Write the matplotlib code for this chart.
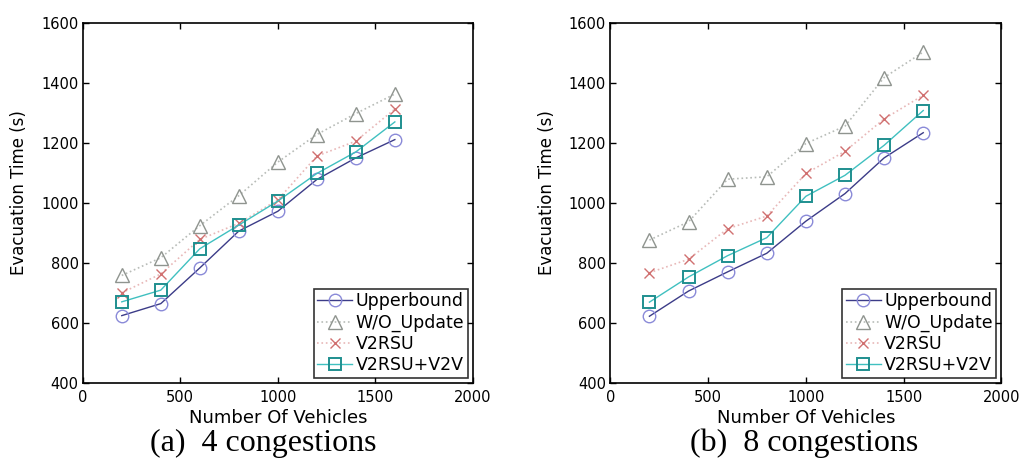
import numpy as np
import matplotlib.pyplot as plt

# 車両台数
vehicles = [200, 400, 600, 800, 1000, 1200, 1400, 1600]
labels = ['Upperbound', 'W/O_Update', 'V2RSU', 'V2RSU+V2V']

# (a) 4 congestions
upper_a = [624, 664, 783, 906, 972, 1078, 1150, 1211]
woupd_a = [758, 817, 924, 1024, 1136, 1228, 1298, 1363]
v2rsu_a = [700, 763, 878, 932, 1010, 1156, 1206, 1313]
v2v_a = [670, 709, 847, 926, 1006, 1098, 1170, 1270]

# (b) 8 congestions
upper_b = [622, 706, 770, 832, 939, 1031, 1150, 1234]
woupd_b = [876, 937, 1079, 1087, 1198, 1256, 1418, 1503]
v2rsu_b = [767, 812, 914, 956, 1098, 1172, 1280, 1359]
v2v_b = [669, 753, 824, 884, 1022, 1092, 1192, 1308]

captions = ['(a)  4 congestions', '(b)  8 congestions']

plt.rcParams['font.family'] = ['DejaVu Sans']

fig = plt.figure(figsize=(10.24, 4.59), dpi=100)
ax1 = fig.add_axes([0.0808, 0.166, 0.381, 0.784])
ax2 = fig.add_axes([0.596, 0.166, 0.382, 0.784])

styles = [
    dict(color='#3c3c88', ls='-', lw=1.0, marker='o', ms=9, mfc='none', mec='#8a8ad8', mew=1.0),
    dict(color='#b8bcb8', ls=':', lw=1.2, marker='^', ms=10, mfc='none', mec='#8f948f', mew=1.0),
    dict(color='#e8b8b8', ls=':', lw=1.2, marker='x', ms=7, mfc='none', mec='#d07070', mew=1.0),
    dict(color='#40c0c0', ls='-', lw=1.0, marker='s', ms=8, mfc='none', mec='#1f8f8f', mew=1.4),
]

for ax, series, cap, cx in [(ax1, [upper_a, woupd_a, v2rsu_a, v2v_a], captions[0], 0.257),
                            (ax2, [upper_b, woupd_b, v2rsu_b, v2v_b], captions[1], 0.785)]:
    for y, lab, st in zip(series, labels, styles):
        ax.plot(vehicles, y, label=lab, **st)
    ax.set_xlim(0, 2000)
    ax.set_ylim(400, 1600)
    ax.set_xticks([0, 500, 1000, 1500, 2000])
    ax.set_yticks(range(400, 1601, 200))
    ax.tick_params(direction='in', top=True, right=True, length=4, width=1.0,
                   labelsize=10.5, colors='black')
    ax.tick_params(axis='x', pad=5)
    ax.tick_params(axis='y', pad=3)
    for sp in ax.spines.values():
        sp.set_linewidth(1.2)
    ax.set_xlabel('Number Of Vehicles', fontsize=13, labelpad=3)
    ax.set_ylabel('Evacuation Time (s)', fontsize=12)
    ax.yaxis.set_label_coords(-0.14, 0.53)
    leg = ax.legend(loc='lower right', fontsize=12.5, frameon=True, fancybox=False,
                    edgecolor='black', borderpad=0.2, handlelength=2.0,
                    handletextpad=0.2, labelspacing=0.18, borderaxespad=0.3)
    leg.get_frame().set_linewidth(1.2)
    fig.text(cx, 0.002, cap, ha='center', va='bottom', fontsize=23,
             family=['Liberation Serif', 'DejaVu Serif'])

fig.savefig('out.png', dpi=100)
